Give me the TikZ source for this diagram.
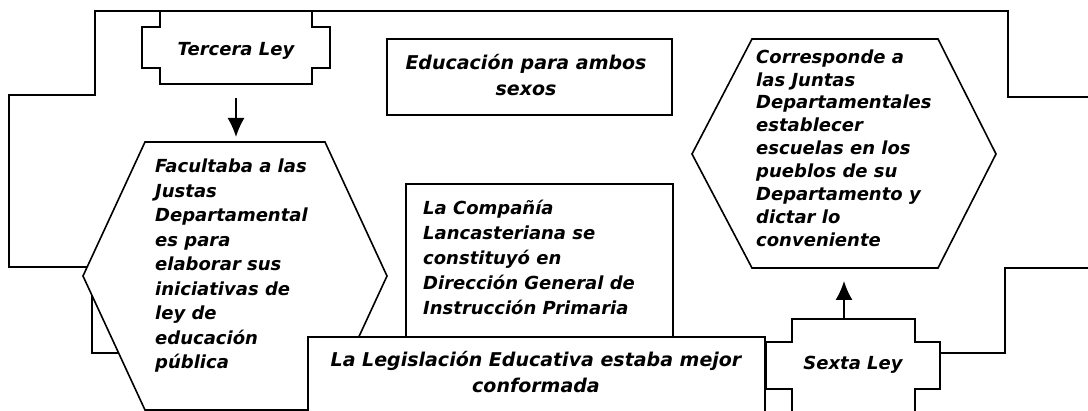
\documentclass[tikz,border=0pt]{standalone}
\usepackage{fontspec}
\setmainfont{DejaVu Sans}
\usetikzlibrary{arrows.meta,positioning}

\tikzset{
  outline/.style={draw, line width=1.6pt, line join=miter},
  shapefill/.style={outline, fill=white},
  txt/.style={font=\fontsize{18}{24.5}\selectfont\bfseries\itshape, inner sep=0pt},
  leftblock/.style={txt, align=left, anchor=west},
  centerblock/.style={txt, align=center},
  linkarrow/.style={-{Latex[length=19pt,width=17pt]}, line width=1.6pt},
}

\begin{document}
\begin{tikzpicture}[x=1pt,y=-1pt]
\useasboundingbox (0,0) rectangle (1088,411);
\clip (0,0) rectangle (1088,411);

% lines behind the boxes
\draw[outline] (1088,97) -- (1008,97) -- (1008,11) -- (95,11) -- (95,95) -- (9,95) -- (9,267) -- (110,267);
\draw[outline] (92,285) -- (92,353) -- (140,353);
\draw[outline] (1088,268) -- (1005,268) -- (1005,353) -- (930,353);

% Tercera Ley
\draw[shapefill] (160,11) -- (312,11) -- (312,27) -- (330,27) -- (330,68) -- (312,68)
  -- (312,84) -- (160,84) -- (160,68) -- (142,68) -- (142,27) -- (160,27) -- cycle;
\node[centerblock] (tercera) at (236,51) {Tercera Ley};

% left hexagon
\draw[shapefill] (83,276) -- (145,142) -- (325,142) -- (387,276) -- (325,410) -- (145,410) -- cycle;
\node[leftblock] (facultaba) at (155,266) {Facultaba a las\\Justas\\Departamental\\es para\\elaborar sus\\iniciativas de\\ley de\\educación\\pública};

% middle boxes
\draw[shapefill] (387,39) rectangle (672,115);
\node[centerblock, font=\fontsize{19}{26}\selectfont\bfseries\itshape] (ambos) at (526,75) {Educación para ambos\\sexos};

\draw[shapefill] (406,184) rectangle (673,337);
\node[leftblock, font=\fontsize{18}{25}\selectfont\bfseries\itshape] (lancaster) at (423,257) {La Compañía\\Lancasteriana se\\constituyó en\\Dirección General de\\Instrucción Primaria};

\draw[shapefill] (308,337) rectangle (765,420);
\node[centerblock, font=\fontsize{19}{26}\selectfont\bfseries\itshape] (legislacion) at (536,372) {La Legislación Educativa estaba mejor\\conformada};

% Sexta Ley
\draw[shapefill] (792,319) -- (915,319) -- (915,342) -- (940,342) -- (940,389) -- (915,389)
  -- (915,411.5) -- (792,411.5) -- (792,389) -- (766,389) -- (766,342) -- (792,342) -- cycle;
\node[centerblock] (sexta) at (853,365) {Sexta Ley};

% right hexagon
\draw[shapefill] (692,154) -- (752,39) -- (938,39) -- (996,154) -- (938,268) -- (752,268) -- cycle;
\node[leftblock, font=\fontsize{18}{22.9}\selectfont\bfseries\itshape] (juntas) at (756,148) {Corresponde a\\las Juntas\\Departamentales\\establecer\\escuelas en los\\pueblos de su\\Departamento y\\dictar lo\\conveniente};

% arrows
\coordinate (tercera-bottom) at (236,84);
\coordinate (facultaba-top) at (236,142);
\coordinate (sexta-top) at (844,319);
\coordinate (juntas-bottom) at (844,268);
\draw[linkarrow, shorten <=14pt, shorten >=5pt] (tercera-bottom) -- (facultaba-top);
\draw[linkarrow, shorten <=1pt, shorten >=13pt] (sexta-top) -- (juntas-bottom);

\end{tikzpicture}
\end{document}
